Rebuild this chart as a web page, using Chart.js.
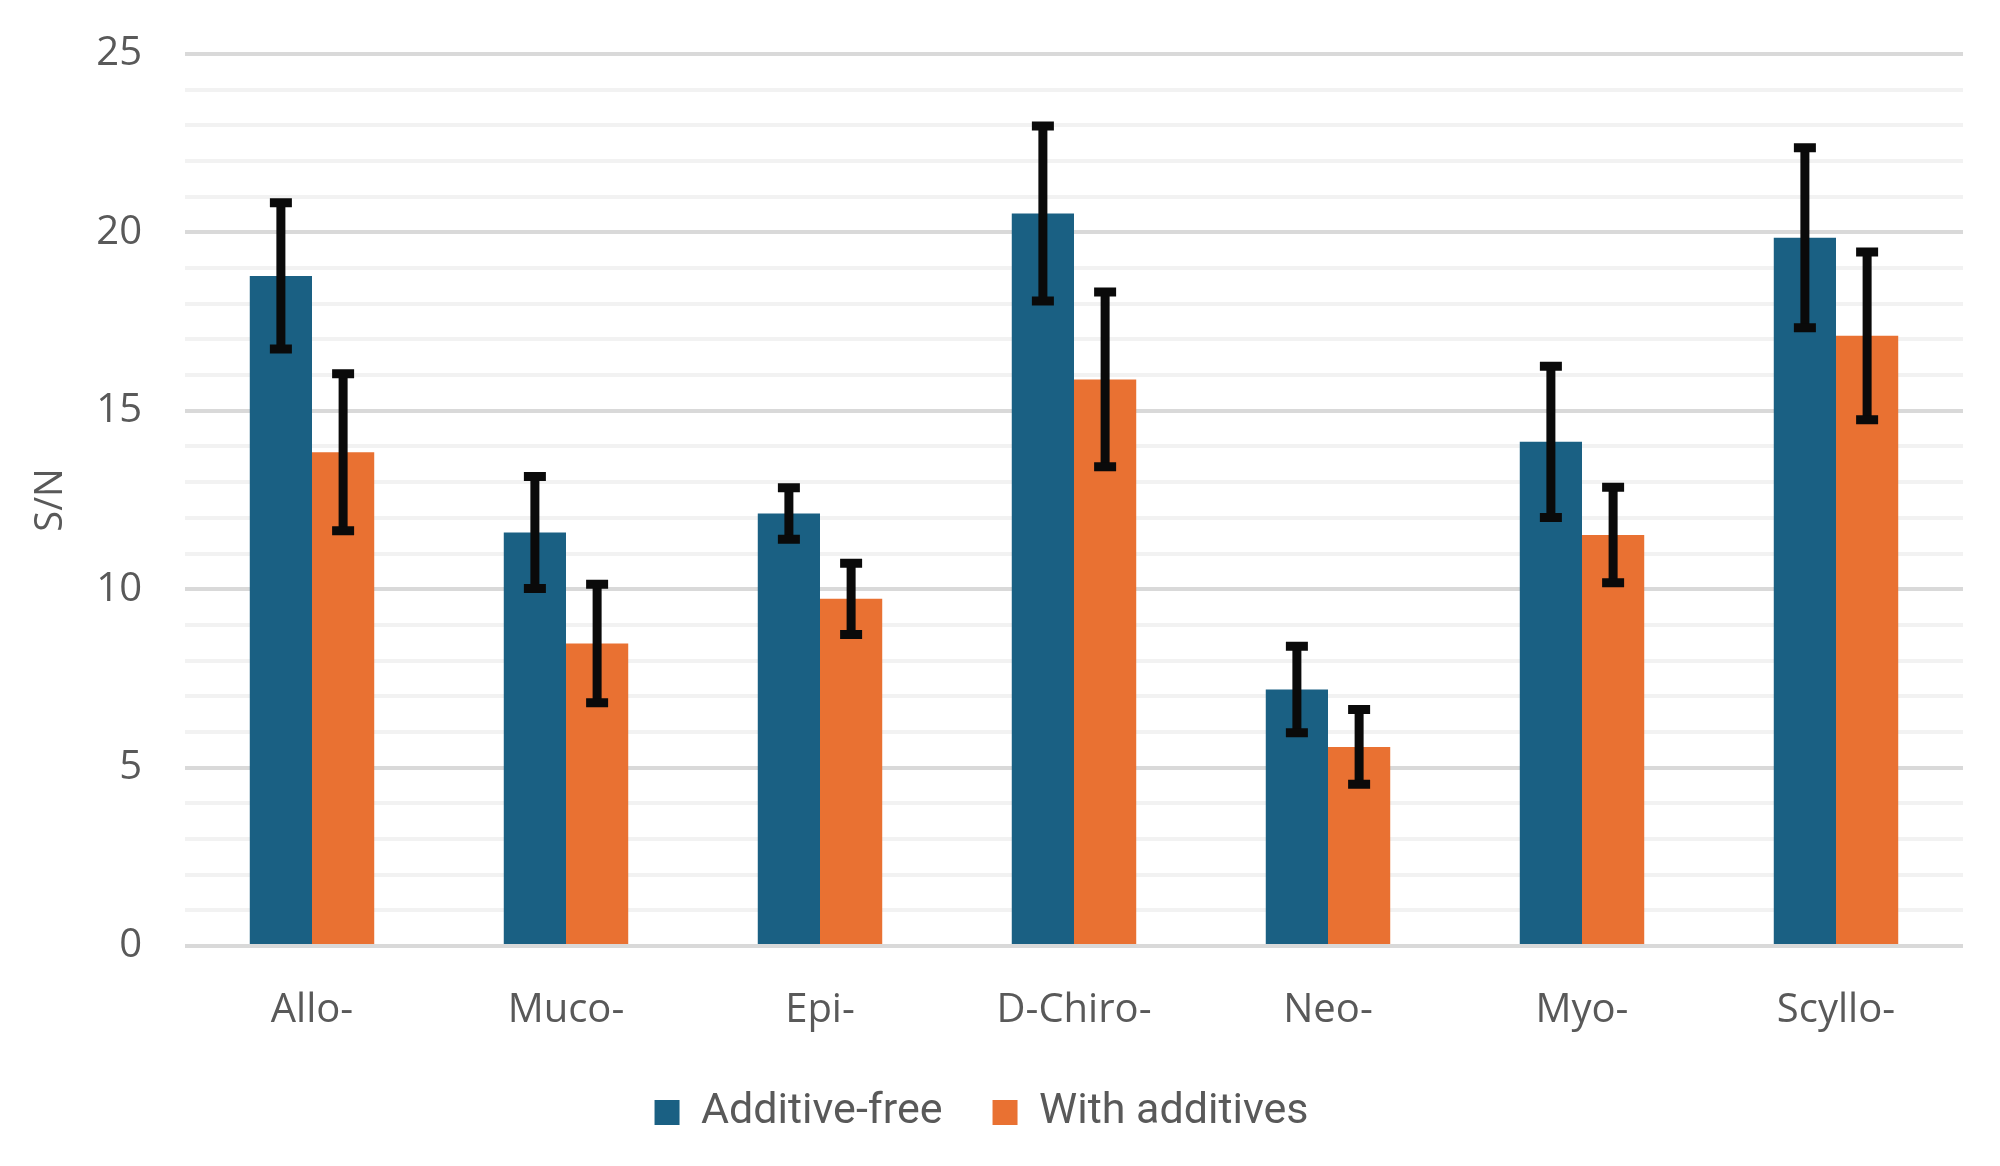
<!DOCTYPE html>
<html>
<head>
<meta charset="utf-8">
<script src="https://cdn.jsdelivr.net/npm/chart.js"></script>
<style>
  html, body { margin: 0; padding: 0; background: #fff; }
  #wrap { width: 2000px; height: 1166px; }
</style>
</head>
<body>
<div id="wrap"><canvas id="snChart" width="2000" height="1166"></canvas></div>
<script>
// S/N of inositol isomers, with and without additives
const categories = ["Allo-", "Muco-", "Epi-", "D-Chiro-", "Neo-", "Myo-", "Scyllo-"];
const seriesNames = ["Additive-free", "With additives"];

const additiveFree = [18.78, 11.59, 12.12, 20.53, 7.19, 14.13, 19.85];
const additiveFreeErr = [2.05, 1.57, 0.72, 2.45, 1.21, 2.12, 2.52];

const withAdditives = [13.84, 8.48, 9.73, 15.88, 5.58, 11.52, 17.10];
const withAdditivesErr = [2.2, 1.66, 1.0, 2.45, 1.05, 1.34, 2.35];

const yTicksMajor = [0, 5, 10, 15, 20, 25];

const textGrey = '#595959';
const errors = [additiveFreeErr, withAdditivesErr];

// draws the black error bars from the y scale
const errorBars = {
  id: 'errorBars',
  afterDatasetsDraw(chart) {
    const ctx = chart.ctx;
    const y = chart.scales.y;
    ctx.save();
    ctx.strokeStyle = '#0a0a0a';
    ctx.lineCap = 'butt';
    chart.data.datasets.forEach((ds, i) => {
      const meta = chart.getDatasetMeta(i);
      meta.data.forEach((bar, j) => {
        const v = ds.data[j], e = errors[i][j];
        const top = y.getPixelForValue(v + e);
        const bot = y.getPixelForValue(v - e);
        ctx.lineWidth = 9;
        ctx.beginPath();
        ctx.moveTo(bar.x, top);
        ctx.lineTo(bar.x, bot);
        ctx.stroke();
        ctx.beginPath();
        ctx.moveTo(bar.x - 11, top);
        ctx.lineTo(bar.x + 11, top);
        ctx.moveTo(bar.x - 11, bot);
        ctx.lineTo(bar.x + 11, bot);
        ctx.stroke();
      });
    });
    ctx.restore();
  }
};

new Chart(document.getElementById('snChart').getContext('2d'), {
  type: 'bar',
  data: {
    labels: categories,
    datasets: [
      { label: seriesNames[0], data: additiveFree, backgroundColor: '#1a6083', categoryPercentage: 0.49, barPercentage: 1.0 },
      { label: seriesNames[1], data: withAdditives, backgroundColor: '#e97132', categoryPercentage: 0.49, barPercentage: 1.0 }
    ]
  },
  plugins: [errorBars],
  options: {
    responsive: false,
    animation: false,
    layout: { padding: { top: 54, right: 37, left: 0, bottom: 22 } },
    plugins: {
      tooltip: { enabled: false },
      legend: {
        position: 'bottom',
        labels: {
          color: textGrey,
          boxWidth: 25,
          boxHeight: 25,
          padding: 50,
          font: { family: 'Roboto, sans-serif', size: 43 }
        }
      }
    },
    scales: {
      x: {
        grid: { display: false },
        border: { display: false },
        ticks: { color: textGrey, padding: 33, font: { family: '"Open Sans", sans-serif', size: 40 } },
        afterFit(scale) { scale.height = 95; }
      },
      y: {
        min: 0,
        max: 25,
        border: { display: false },
        grid: {
          drawTicks: false,
          lineWidth: 4,
          color: c => (yTicksMajor.includes(c.tick.value) ? '#d9d9d9' : '#f2f2f2')
        },
        ticks: {
          stepSize: 1,
          autoSkip: false,
          padding: 43,
          color: textGrey,
          font: { family: '"Open Sans", sans-serif', size: 40 },
          callback: v => (yTicksMajor.includes(v) ? v : '')
        },
        title: {
          display: true,
          text: 'S/N',
          color: textGrey,
          padding: { top: 28, bottom: 0 },
          font: { family: '"Open Sans", sans-serif', size: 38 }
        },
        afterFit(scale) {
          scale.width = 185;
          scale.paddingTop = 0;
          scale.paddingBottom = 0;
        }
      }
    }
  }
});
</script>
</body>
</html>
